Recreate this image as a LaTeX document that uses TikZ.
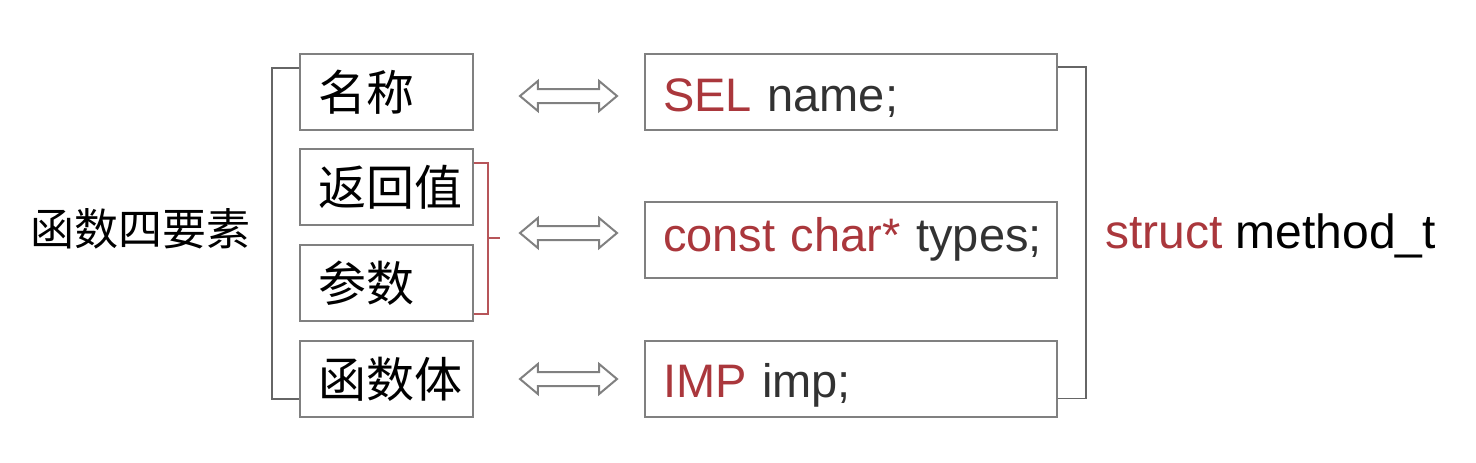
\documentclass[tikz,border=0pt]{standalone}
\usepackage{fontspec}
\setmainfont{Liberation Sans}
\newfontfamily\cjk{Noto Sans CJK SC}
\usepackage{xcolor}
\usetikzlibrary{positioning,shapes.arrows}
\definecolor{kwred}{RGB}{170,55,60}
\definecolor{boxgray}{RGB}{128,128,128}
\definecolor{txtgray}{RGB}{50,50,50}

\begin{document}
\begin{tikzpicture}[x=0.5pt,y=-0.5pt,
  lbox/.style={draw=boxgray,line width=1pt,text width=68.5pt,inner xsep=9pt,inner ysep=0pt,
    minimum height=38pt,align=left,font=\cjk\fontsize{24}{28}\selectfont},
  rbox/.style={draw=boxgray,line width=1pt,text width=188pt,inner xsep=9pt,inner ysep=0pt,
    minimum height=38pt,align=left,text=txtgray,font=\fontsize{23.5}{28}\selectfont},
  lowtxt/.style={text height=19pt,text depth=0pt},
  dbl/.style={double arrow,draw=boxgray,line width=1pt,fill=white,inner sep=0pt,
    text height=6pt,text depth=0pt,minimum height=48.5pt,minimum width=0pt,
    double arrow head extend=4pt,double arrow tip angle=80},
  brk/.style={draw=black!60,line width=0.9pt},
  rbrk/.style={draw=kwred!85,line width=0.6pt}]
  \useasboundingbox (0,0) rectangle (1476,462);
  % left column
  \node[lbox](nm) at (386.5,92){名称};
  \node[lbox](rv) at (386.5,187){返回值};
  \node[lbox](cs) at (386.5,283){参数};
  \node[lbox](fb) at (386.5,379){函数体};
  \node[font=\cjk\fontsize{22}{26}\selectfont](fs) at (140,229){函数四要素};
  % right column
  \node[rbox,lowtxt](sel) at (851,92){\mbox{\textcolor{kwred}{SEL} name;}};
  \node[rbox](typ) at (851,239.5){\mbox{\textcolor{kwred}{const char*} types;}};
  \node[rbox,lowtxt](imp) at (851,378.5){\mbox{\textcolor{kwred}{IMP} imp;}};
  \node[anchor=base west,font=\fontsize{24}{28}\selectfont](st) at (1098,248){\textcolor{kwred}{struct} method\_t};
  % arrows
  \node[dbl](a1) at (568.5,96){};
  \node[dbl](a2) at (568.5,233){};
  \node[dbl](a3) at (568.5,379){};
  % brackets
  \draw[brk] ([yshift=-7.5pt]nm.north west) -- ++(-27,0) |- ([yshift=9.5pt]fb.south west);
  \draw[brk] ([yshift=-7pt]sel.north east) -- ++(28,0) |- ([yshift=9.5pt]imp.south east);
  \draw[rbrk] ([yshift=-7.5pt]rv.north east) -- ++(14,0) coordinate(rt) |- ([yshift=4pt]cs.south east);
  \coordinate (rm) at (487,238);
  \draw[rbrk] (rm) -- ++(13,0);
\end{tikzpicture}
\end{document}
